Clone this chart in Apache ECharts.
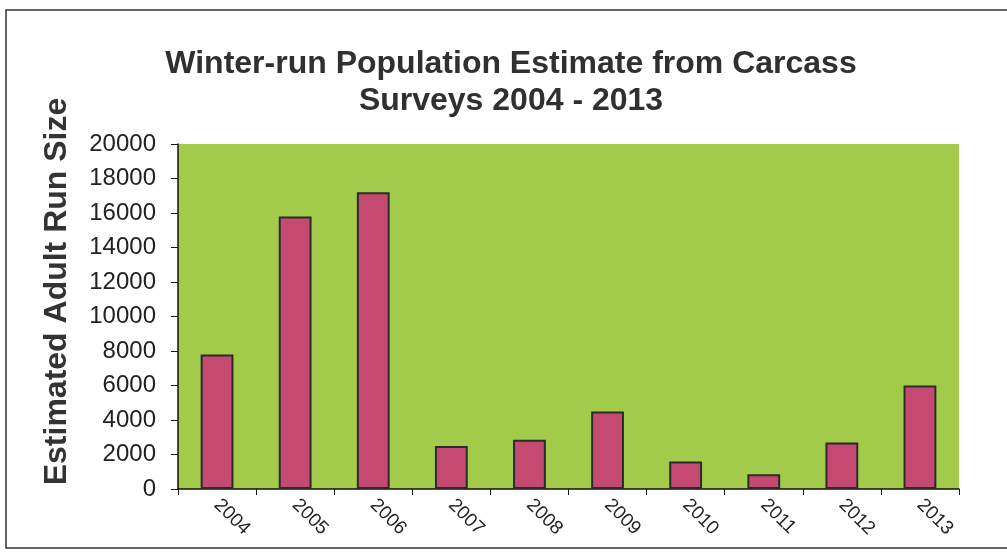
<!DOCTYPE html>
<html>
<head>
<meta charset="utf-8">
<style>
  html, body { margin: 0; padding: 0; background: #ffffff; }
  #chart { width: 1007px; height: 555px; }
</style>
<script src="https://cdn.jsdelivr.net/npm/echarts@6/dist/echarts.min.js"></script>
</head>
<body>
<div id="chart"></div>
<script>
// Survey years and estimated adult winter-run size
const years = ['2004', '2005', '2006', '2007', '2008', '2009', '2010', '2011', '2012', '2013'];
const runSize = [7800, 15800, 17200, 2500, 2850, 4500, 1600, 850, 2700, 6000];
const yTicks = [0, 2000, 4000, 6000, 8000, 10000, 12000, 14000, 16000, 18000, 20000];

const FONT = '"Liberation Sans", Arial, sans-serif';
const chart = echarts.init(document.getElementById('chart'));

chart.setOption({
  backgroundColor: '#ffffff',
  animation: false,
  title: {
    text: 'Winter-run Population Estimate from Carcass\nSurveys 2004 - 2013',
    left: 506,
    textAlign: 'center',
    top: 41,
    textStyle: {
      fontFamily: FONT,
      fontWeight: 'bold',
      fontSize: 32,
      lineHeight: 37,
      color: '#303030'
    }
  },
  graphic: [{
    type: 'rect',
    shape: { x: 6, y: 10, width: 1010, height: 538 },
    style: { fill: 'none', stroke: '#333', lineWidth: 1.5 },
    z: -1
  }],
  grid: {
    left: 178,
    right: 48,
    top: 144,
    bottom: 66,
    show: true,
    backgroundColor: '#a2cb4c',
    borderWidth: 0
  },
  xAxis: {
    type: 'category',
    data: years,
    axisLine: { lineStyle: { color: '#111', width: 1.5 } },
    axisTick: { show: true, alignWithLabel: false, length: 6, lineStyle: { color: '#111' } },
    axisLabel: {
      rotate: -45,
      margin: 13,
      fontFamily: FONT,
      fontSize: 19,
      color: '#222',
      align: 'left',
      verticalAlign: 'middle'
    }
  },
  yAxis: {
    type: 'value',
    min: 0,
    max: 20000,
    interval: 2000,
    name: 'Estimated Adult Run Size',
    nameLocation: 'middle',
    nameRotate: 90,
    nameGap: 105,
    nameTextStyle: {
      fontFamily: FONT,
      fontWeight: 'bold',
      fontSize: 32,
      color: '#333',
      padding: [0, 0, 0, 50]
    },
    axisLine: { show: true, lineStyle: { color: '#111', width: 1.5 } },
    axisTick: { show: true, length: 7, lineStyle: { color: '#111' } },
    splitLine: { show: false },
    axisLabel: {
      margin: 22,
      fontFamily: FONT,
      fontSize: 24,
      color: '#222',
      formatter: v => (yTicks.indexOf(v) >= 0 ? String(v) : '')
    }
  },
  series: [{
    type: 'bar',
    data: runSize,
    barWidth: '42%',
    itemStyle: {
      color: '#c54a72',
      borderColor: '#2b2b2b',
      borderWidth: 2
    }
  }]
});
</script>
</body>
</html>
